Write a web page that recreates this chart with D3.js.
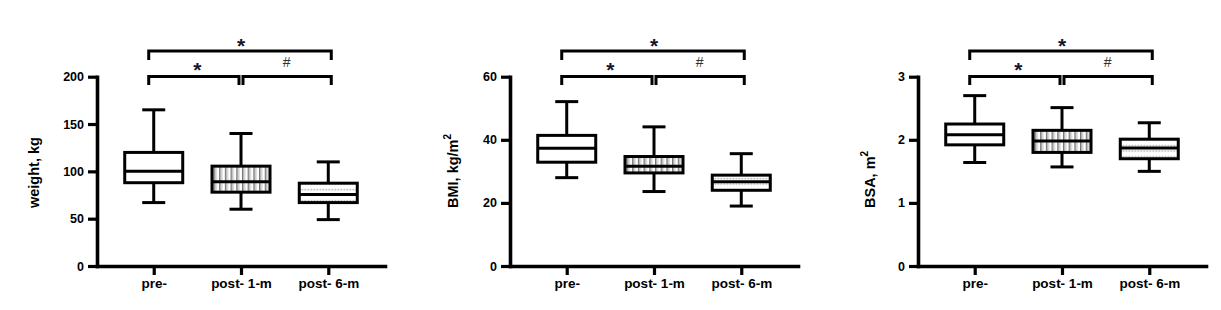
<!DOCTYPE html>
<html>
<head>
<meta charset="utf-8">
<script src="https://cdn.jsdelivr.net/npm/d3@7"></script>
<style>
  body { margin: 0; background: #fff; }
  text { font-family: Arial, "Liberation Sans", sans-serif; }
</style>
</head>
<body>
<div id="chart"></div>
<script>
// categories shared by all three panels
var groups = ['pre-', 'post- 1-m', 'post- 6-m'];

// weight, kg
var weightMin = [67, 60, 49];
var weightQ1 = [88, 78, 67];
var weightMedian = [100, 89, 75.5];
var weightQ3 = [120, 105.5, 87.5];
var weightMax = [165, 140, 110];
var weightTicks = [0, 50, 100, 150, 200];

// BMI, kg/m2
var bmiMin = [28, 23.6, 19];
var bmiQ1 = [32.9, 29.5, 24];
var bmiMedian = [37.3, 31.6, 26.7];
var bmiQ3 = [41.4, 34.7, 28.8];
var bmiMax = [52.1, 44.1, 35.6];
var bmiTicks = [0, 20, 40, 60];

// BSA, m2
var bsaMin = [1.64, 1.57, 1.50];
var bsaQ1 = [1.92, 1.80, 1.70];
var bsaMedian = [2.08, 1.98, 1.87];
var bsaQ3 = [2.25, 2.15, 2.01];
var bsaMax = [2.70, 2.51, 2.27];
var bsaTicks = [0, 1, 2, 3];

// significance marks
var sigMarks = ['*', '*', '#'];

var fills = ['#fff', 'url(#stripes)', 'url(#dots)'];

var svg = d3.select('#chart').append('svg')
    .attr('width', 1221).attr('height', 310);

var defs = svg.append('defs');
var stripes = defs.append('pattern').attr('id', 'stripes')
    .attr('patternUnits', 'userSpaceOnUse').attr('width', 5.7).attr('height', 10);
stripes.append('rect').attr('width', 5.7).attr('height', 10).attr('fill', '#fff');
stripes.append('rect').attr('x', 1).attr('width', 1.4).attr('height', 10).attr('fill', '#6e6e6e');
stripes.append('rect').attr('x', 3.2).attr('width', 1).attr('height', 10).attr('fill', '#bdbdbd');

var dots = defs.append('pattern').attr('id', 'dots')
    .attr('patternUnits', 'userSpaceOnUse').attr('width', 3).attr('height', 5.5);
dots.append('rect').attr('width', 3).attr('height', 5.5).attr('fill', '#fff');
dots.append('rect').attr('x', 0.5).attr('y', 2).attr('width', 1.2).attr('height', 1.2).attr('fill', '#7d7d7d');

function drawPanel(left, label, sup, labelX, ticks, mins, q1s, meds, q3s, maxs) {
    var g = svg.append('g').attr('transform', 'translate(' + left + ' 0)');
    var width = 288, top = 76.7, bottom = 266;

    var x = d3.scalePoint().domain(groups).range([0, width]).padding(0.65);
    var y = d3.scaleLinear().domain([0, ticks[ticks.length - 1]]).range([bottom, top]);

    // axes
    var yAxis = g.append('g')
        .call(d3.axisLeft(y).tickValues(ticks).tickFormat(d3.format('d'))
            .tickSize(9).tickSizeOuter(0).tickPadding(4));
    var xAxis = g.append('g').attr('transform', 'translate(0 ' + bottom + ')')
        .call(d3.axisBottom(x).tickSize(9).tickSizeOuter(0));

    [yAxis, xAxis].forEach(function(a) {
        a.select('.domain').attr('stroke-width', 3.6).attr('stroke-linecap', 'square');
        a.selectAll('.tick line').attr('stroke-width', 3.2);
        a.selectAll('.tick text').attr('fill', '#000')
            .style('font-size', '12.5px').style('font-weight', 'bold');
    });
    xAxis.selectAll('.tick text').attr('y', 22).attr('dy', 0).style('font-size', '13.5px');

    // y label, starts at the same height in every panel
    var lab = g.append('text')
        .attr('transform', 'translate(' + labelX + ' 208) rotate(-90)')
        .style('font-size', '14.5px').style('font-weight', 'bold')
        .text(label);
    if (sup) {
        lab.append('tspan').attr('dy', -7).style('font-size', '10px').text(sup);
    }

    // boxes
    var boxW = 58, capW = 23;
    var data = groups.map(function(c, i) {
        return {cat: c, min: mins[i], q1: q1s[i], med: meds[i], q3: q3s[i], max: maxs[i], fill: fills[i]};
    });
    var box = g.selectAll('.box').data(data).enter().append('g')
        .attr('transform', function(d) { return 'translate(' + x(d.cat) + ' 0)'; });

    box.append('line').attr('y1', function(d) { return y(d.min); })
        .attr('y2', function(d) { return y(d.max); })
        .attr('stroke', '#000').attr('stroke-width', 3);
    box.append('line').attr('x1', -capW / 2).attr('x2', capW / 2)
        .attr('y1', function(d) { return y(d.max); }).attr('y2', function(d) { return y(d.max); })
        .attr('stroke', '#000').attr('stroke-width', 3);
    box.append('line').attr('x1', -capW / 2).attr('x2', capW / 2)
        .attr('y1', function(d) { return y(d.min); }).attr('y2', function(d) { return y(d.min); })
        .attr('stroke', '#000').attr('stroke-width', 3);
    box.append('rect').attr('x', -boxW / 2).attr('width', boxW)
        .attr('y', function(d) { return y(d.q3); })
        .attr('height', function(d) { return y(d.q1) - y(d.q3); })
        .attr('fill', function(d) { return d.fill; })
        .attr('stroke', '#000').attr('stroke-width', 3);
    box.append('line').attr('x1', -boxW / 2).attr('x2', boxW / 2)
        .attr('y1', function(d) { return y(d.med); }).attr('y2', function(d) { return y(d.med); })
        .attr('stroke', '#000').attr('stroke-width', 3);

    // significance brackets
    var x0 = x(groups[0]), x1 = x(groups[1]), x2 = x(groups[2]);
    var brackets = [
        {a: x0 - 5, b: x2 + 3, y: 51, leg: 60},
        {a: x0 - 5, b: x1 - 2, y: 76.5, leg: 85},
        {a: x1 + 2, b: x2 + 3, y: 76.5, leg: 85}
    ];
    g.selectAll('.bracket').data(brackets).enter().append('path')
        .attr('d', function(d) {
            return 'M' + d.a + ',' + d.leg + 'V' + d.y + 'H' + d.b + 'V' + d.leg;
        })
        .attr('fill', 'none').attr('stroke', '#000').attr('stroke-width', 3);

    var marks = [
        {t: sigMarks[0], x: (x0 + x2) / 2, y: 53, size: 21, w: 'bold', c: '#14142a'},
        {t: sigMarks[1], x: (x0 + x1) / 2, y: 76.5, size: 21, w: 'bold', c: '#14142a'},
        {t: sigMarks[2], x: (x1 + x2) / 2 + 2, y: 67, size: 14, w: 'normal', c: '#333'}
    ];
    g.selectAll('.mark').data(marks).enter().append('text')
        .attr('x', function(d) { return d.x; }).attr('y', function(d) { return d.y; })
        .attr('text-anchor', 'middle')
        .style('font-size', function(d) { return d.size + 'px'; })
        .style('font-weight', function(d) { return d.w; })
        .attr('fill', function(d) { return d.c; })
        .text(function(d) { return d.t; });
}

drawPanel(97, 'weight, kg', null, -58, weightTicks, weightMin, weightQ1, weightMedian, weightQ3, weightMax);
drawPanel(510, 'BMI, kg/m', '2', -52, bmiTicks, bmiMin, bmiQ1, bmiMedian, bmiQ3, bmiMax);
drawPanel(918, 'BSA, m', '2', -43, bsaTicks, bsaMin, bsaQ1, bsaMedian, bsaQ3, bsaMax);
</script>
</body>
</html>
